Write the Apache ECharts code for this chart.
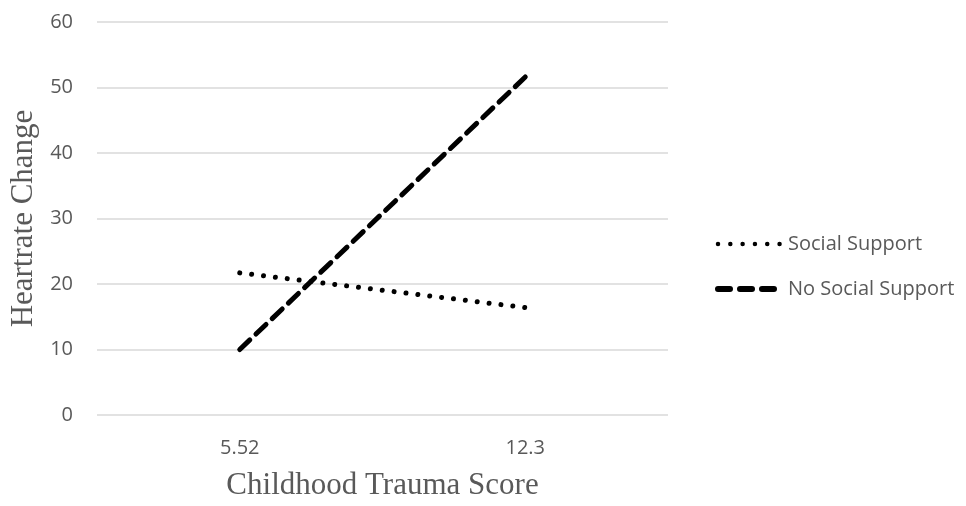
<!DOCTYPE html>
<html><head><meta charset="utf-8">
<script src="https://cdn.jsdelivr.net/npm/echarts@6/dist/echarts.min.js"></script>
<style>html,body{margin:0;padding:0;background:#fff}#c{width:966px;height:506px}</style>
</head><body><div id="c"></div>
<script>
const categories = ['5.52', '12.3'];
const socialSupport = [21.7, 16.4];
const noSocialSupport = [10.0, 51.6];
const seriesNames = ['Social Support', 'No Social Support'];
const xTitle = 'Childhood Trauma Score';
const yTitle = 'Heartrate Change';

const dotStyle = {color: '#000', width: 5, type: [0.01, 11.95], cap: 'round'};
const dashStyle = {color: '#000', width: 5, type: [13.9, 8.5], cap: 'round'};

const chart = echarts.init(document.getElementById('c'));
chart.setOption({
  animation: false,
  backgroundColor: '#fff',
  grid: {left: 97, right: 298, top: 22, bottom: 90},
  legend: {
    orient: 'vertical', left: 710, top: 229,
    itemWidth: 63, itemHeight: 20, itemGap: 25,
    itemStyle: {opacity: 0},
    textStyle: {fontFamily: 'Open Sans', fontSize: 20, color: '#595959', padding: [0, 0, 0, 2]},
    data: [
      {name: seriesNames[0], lineStyle: {color: '#000', width: 4.5, type: [0.01, 12.3], cap: 'round'}},
      {name: seriesNames[1], lineStyle: {color: '#000', width: 6, type: [12, 10], cap: 'round'}}
    ]
  },
  xAxis: {
    type: 'category', data: categories, boundaryGap: true,
    axisLine: {show: false}, axisTick: {show: false},
    axisLabel: {fontFamily: 'Open Sans', fontSize: 20, color: '#595959', margin: 23},
    name: xTitle, nameLocation: 'middle', nameGap: 55,
    nameTextStyle: {fontFamily: 'Liberation Serif', fontSize: 31, color: '#595959'}
  },
  yAxis: {
    type: 'value', min: 0, max: 60, interval: 10,
    axisLine: {show: false}, axisTick: {show: false},
    axisLabel: {fontFamily: 'Open Sans', fontSize: 20, color: '#595959', margin: 24},
    splitLine: {lineStyle: {color: '#d9d9d9', width: 1.5}},
    name: yTitle, nameLocation: 'middle', nameGap: 55,
    nameTextStyle: {fontFamily: 'Liberation Serif', fontSize: 31, color: '#595959'}
  },
  series: [
    {name: seriesNames[0], type: 'line', data: socialSupport, symbol: 'none',
     lineStyle: dotStyle, itemStyle: {color: '#000'}},
    {name: seriesNames[1], type: 'line', data: noSocialSupport, symbol: 'none',
     lineStyle: dashStyle, itemStyle: {color: '#000'}}
  ]
});
</script></body></html>
